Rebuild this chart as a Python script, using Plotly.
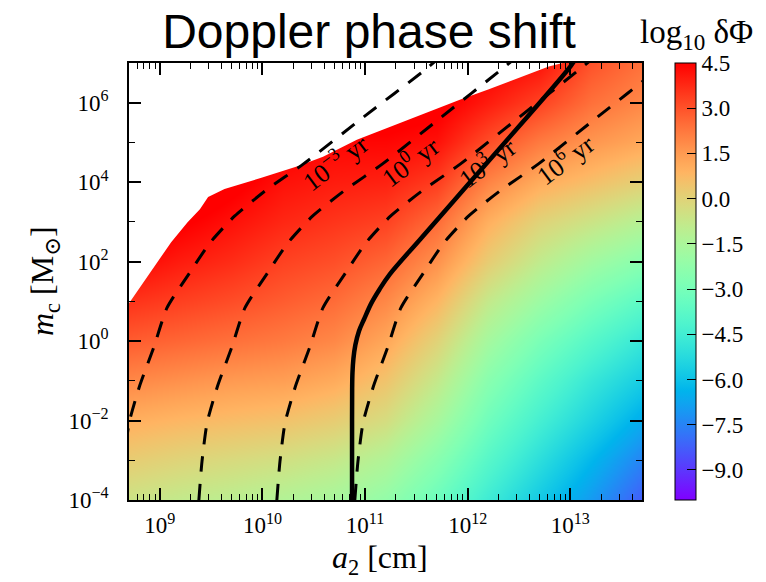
import math
import plotly.graph_objects as go

# ---- phase-shift map: log10(delta Phi) on a grid of log10 a2 [cm] x log10 m_c [Msun]
LOG_A2 = [8.699, 9.199, 9.699, 10.199, 10.699, 11.199, 11.699, 12.199, 12.699, 13.199, 13.699]
LOG_MC = [-4, -3, -2, -1, 0, 1, 2, 3, 4, 5, 6, 7]
LOG_DPHI = [
    [-0.6, -0.85, -1.05, -1.3, -1.6, -2.2, -3.3, -4.6, -5.8, -7.0, -8.3],
    [0.2, -0.05, -0.25, -0.45, -0.75, -1.35, -2.5, -3.9, -5.1, -6.3, -7.5],
    [1.0, 0.8, 0.65, 0.5, 0.2, -0.35, -1.6, -3.2, -4.4, -5.5, -6.6],
    [1.9, 1.7, 1.5, 1.4, 1.1, 0.45, -0.8, -2.5, -3.7, -4.8, -5.7],
    [2.8, 2.6, 2.4, 2.2, 1.9, 1.2, 0.0, -1.7, -2.9, -3.9, -4.8],
    [3.6, 3.35, 3.1, 2.8, 2.5, 1.9, 0.85, -0.8, -1.9, -2.9, -3.7],
    [4.4, 4.0, 3.7, 3.3, 3.05, 2.6, 1.7, 0.2, -0.9, -1.8, -2.5],
    [5.2, 4.6, 4.2, 3.8, 3.55, 3.3, 2.5, 1.0, 0.0, -0.6, -1.2],
    [6.0, 5.2, 4.7, 4.2, 4.0, 3.9, 3.4, 2.0, 1.1, 0.6, 0.1],
    [6.8, 5.8, 5.2, 4.6, 4.4, 4.4, 4.2, 3.1, 2.2, 1.6, 1.2],
    [7.5, 6.4, 5.7, 5.0, 4.8, 4.9, 4.7, 4.0, 3.3, 2.4, 1.9],
    [8.2, 7.0, 6.2, 5.4, 5.2, 5.3, 5.1, 4.6, 4.2, 3.0, 2.4],
]

# ---- edge of the excluded (blank) region, upper left
EDGE_LOG_A2 = [8.699, 8.76, 8.91, 9.01, 9.11, 9.27, 9.39, 9.47, 9.63, 9.99, 10.35,
               10.59, 10.92, 11.24, 11.57, 11.93, 12.2, 12.53, 12.79, 12.97]
EDGE_LOG_MC = [0.95, 1.18, 1.73, 2.14, 2.49, 2.99, 3.32, 3.63, 3.83, 4.11, 4.41,
               4.64, 5.07, 5.39, 5.72, 6.08, 6.33, 6.66, 6.91, 7.03]

# ---- timescale contours (dashed)
T_LOG_MC = [-4.0, -3.04, -2.06, -1.15, -0.16, 0.84, 1.68, 2.48, 3.15, 3.79, 4.46, 5.65, 6.86, 7.2]
T_LOG_A2 = {
    "1e-3": [8.62, 8.65, 8.70, 8.80, 8.94, 9.07, 9.28, 9.49, 9.73, 10.03, 10.40, 10.99, 11.60, 11.75],
    "1e0": [9.38, 9.41, 9.46, 9.56, 9.70, 9.83, 10.04, 10.25, 10.49, 10.80, 11.17, 11.75, 12.34, 12.50],
    "1e3": [10.14, 10.17, 10.22, 10.32, 10.46, 10.59, 10.80, 11.01, 11.25, 11.56, 11.93, 12.51, 13.10, 13.26],
    "1e6": [10.90, 10.93, 10.98, 11.08, 11.22, 11.35, 11.56, 11.77, 12.01, 12.32, 12.69, 13.27, 13.86, 14.00],
}
T_TEXT = {
    "1e-3": "10<sup>\u22123</sup> yr",
    "1e0": "10<sup>0</sup> yr",
    "1e3": "10<sup>3</sup> yr",
    "1e6": "10<sup>6</sup> yr",
}
T_LABEL_POS = {  # (log a2, log m_c) of each label
    "1e-3": (10.707, 4.51),
    "1e0": (11.44, 4.54),
    "1e3": (12.19, 4.51),
    "1e6": (12.95, 4.59),
}

# ---- solid curve
SOLID_LOG_A2 = [10.873, 10.873, 10.874, 10.877, 10.886, 10.905, 10.94, 10.99, 11.06, 11.14, 11.24,
                11.54, 12.05, 12.55, 13.0, 13.05]
SOLID_LOG_MC = [-4.0, -2.0, -1.2, -0.8, -0.45, -0.1, 0.25, 0.55, 0.95, 1.3, 1.68,
                2.57, 4.08, 5.55, 6.91, 7.1]

# ---- axis / colorbar ticks
X_TICKS = [9, 10, 11, 12, 13]
Y_TICKS = [-4, -2, 0, 2, 4, 6]
Y_MINOR = [-3, -1, 1, 3, 5]
CB_TICKS = [4.5, 3.0, 1.5, 0.0, -1.5, -3.0, -4.5, -6.0, -7.5, -9.0]
Z_MIN, Z_MAX = -10.0, 4.5

X_RANGE = [8.699, 13.699]
Y_RANGE = [-4.0, 7.0]

SERIF = "Liberation Serif, Times New Roman, DejaVu Serif, serif"
SANS = "Liberation Sans, Arial, Helvetica, sans-serif"


def rainbow(t):
    r = min(1.0, abs(2 * t - 0.5))
    g = math.sin(math.pi * t)
    b = math.cos(math.pi * t / 2)
    return "rgb(%d,%d,%d)" % (round(255 * r), round(255 * g), round(255 * max(b, 0)))


colorscale = [[i / 40, rainbow(i / 40)] for i in range(41)]


def sup(v):
    return "10<sup>" + str(v).replace("-", "\u2212") + "</sup>"


x_minor = [math.log10(k) + n for n in range(8, 14) for k in range(2, 10)
           if X_RANGE[0] + 1e-3 < math.log10(k) + n < X_RANGE[1]]

PX_L, PX_R, PX_T, PX_B = 129, 642, 63, 500
CB_LEFT = 675


def paper_x(px):
    return (px - PX_L) / (PX_R - PX_L)


def paper_y(py):
    return (PX_B - py) / (PX_B - PX_T)


fig = go.Figure()

fig.add_trace(go.Heatmap(
    x=LOG_A2, y=LOG_MC, z=LOG_DPHI,
    zmin=Z_MIN, zmax=Z_MAX, zsmooth="best",
    colorscale=colorscale,
    colorbar=dict(
        x=paper_x(CB_LEFT), xanchor="left", xref="paper", xpad=0,
        y=0.5, yanchor="middle", len=1.0, lenmode="fraction", ypad=0,
        thickness=21, thicknessmode="pixels",
        outlinewidth=1, outlinecolor="black",
        ticks="inside", ticklen=9, tickwidth=1.2, tickcolor="black",
        tickvals=CB_TICKS,
        ticktext=[("%.1f" % v).replace("-", "\u2212") for v in CB_TICKS],
        tickfont=dict(family=SERIF, size=23, color="black"),
    ),
    showscale=True,
))

# blank out the excluded region
fig.add_trace(go.Scatter(
    x=EDGE_LOG_A2 + [13.2, 8.4, 8.4],
    y=EDGE_LOG_MC + [7.5, 7.5, EDGE_LOG_MC[0]],
    fill="toself", fillcolor="white", mode="lines",
    line=dict(width=0, color="white"), hoverinfo="skip", showlegend=False,
))

for key, xs in T_LOG_A2.items():
    fig.add_trace(go.Scatter(
        x=xs, y=T_LOG_MC, mode="lines",
        line=dict(color="black", width=3.0, dash="16px,12px", shape="spline", smoothing=0.6),
        hoverinfo="skip", showlegend=False,
    ))

fig.add_trace(go.Scatter(
    x=SOLID_LOG_A2, y=SOLID_LOG_MC, mode="lines",
    line=dict(color="black", width=4.5, shape="spline", smoothing=1.0),
    hoverinfo="skip", showlegend=False,
))

annotations = []
for key, (lx, ly) in T_LABEL_POS.items():
    annotations.append(dict(
        x=lx, y=ly, xref="x", yref="y", text=T_TEXT[key], showarrow=False,
        textangle=-37, font=dict(family=SERIF, size=26, color="black"),
        xanchor="center", yanchor="middle",
    ))

annotations += [
    dict(x=paper_x(380), y=paper_y(559), xref="paper", yref="paper",
         text="<i>a</i><sub>2</sub> [cm]", showarrow=False,
         font=dict(family=SERIF, size=32, color="black"),
         xanchor="center", yanchor="middle"),
    dict(x=paper_x(44), y=paper_y(281), xref="paper", yref="paper",
         text="<i>m</i><sub>c</sub> [M<sub>\u2299</sub>]", showarrow=False, textangle=-90,
         font=dict(family=SERIF, size=32, color="black"),
         xanchor="center", yanchor="middle"),
    dict(x=paper_x(696), y=paper_y(34), xref="paper", yref="paper",
         text="log<sub>10</sub> \u03b4\u03a6", showarrow=False,
         font=dict(family=SERIF, size=33, color="black"),
         xanchor="center", yanchor="middle"),
]

axis_common = dict(
    showgrid=False, zeroline=False,
    showline=True, linecolor="black", linewidth=1.5, mirror="allticks",
    ticks="inside", ticklen=12, tickwidth=1.5, tickcolor="black",
    tickfont=dict(family=SERIF, size=23, color="black"),
)

fig.update_layout(
    width=766, height=582,
    margin=dict(l=PX_L, r=766 - PX_R, t=PX_T, b=582 - PX_B, pad=0, autoexpand=False),
    paper_bgcolor="white", plot_bgcolor="white",
    title=dict(text="Doppler phase shift", x=369 / 766, xref="container", xanchor="center",
               y=1 - 31 / 582, yref="container", yanchor="middle",
               font=dict(family=SANS, size=48, color="black")),
    xaxis=dict(range=X_RANGE, tickvals=X_TICKS, ticktext=[sup(v) for v in X_TICKS],
               minor=dict(tickvals=x_minor, ticks="inside", ticklen=6, tickwidth=1.2,
                          tickcolor="black", showgrid=False),
               ticklabelstandoff=4, **axis_common),
    yaxis=dict(range=Y_RANGE, tickvals=Y_TICKS, ticktext=[sup(v) for v in Y_TICKS],
               minor=dict(tickvals=Y_MINOR, ticks="inside", ticklen=6, tickwidth=1.2,
                          tickcolor="black", showgrid=False),
               ticklabelstandoff=14, **axis_common),
    annotations=annotations,
    showlegend=False,
)

fig.write_html("out.html")
